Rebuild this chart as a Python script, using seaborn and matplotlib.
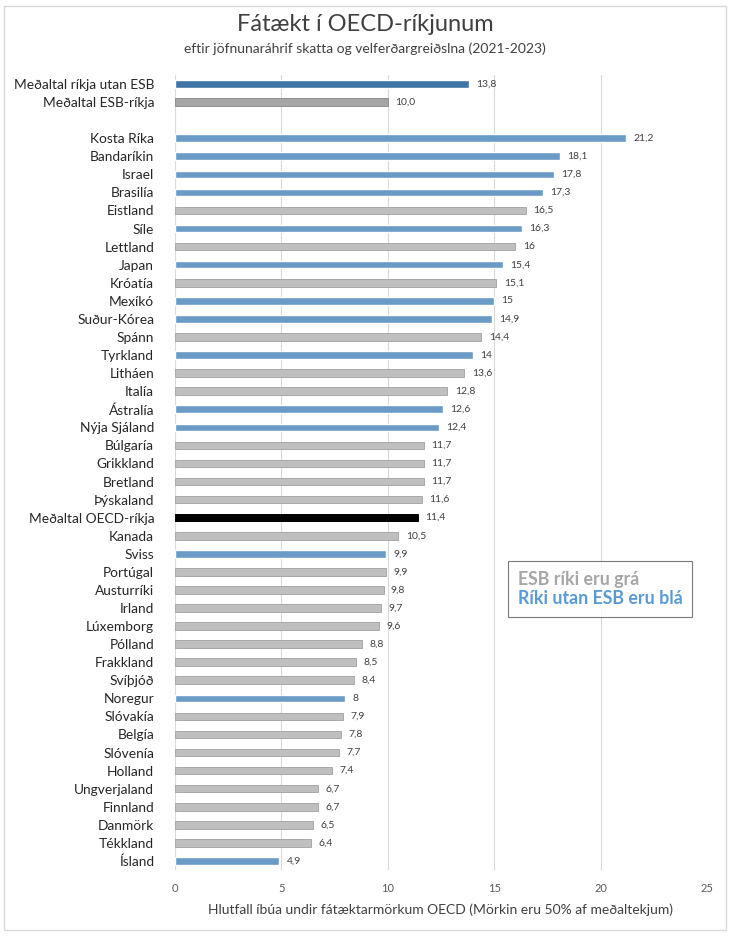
import numpy as np
import pandas as pd
import seaborn as sns
import matplotlib.pyplot as plt
from matplotlib.patches import Patch, Rectangle

lond = ['Meðaltal ríkja utan ESB', 'Meðaltal ESB-ríkja', '',
        'Kosta Ríka', 'Bandaríkin', 'Israel', 'Brasilía', 'Eistland', 'Síle',
        'Lettland', 'Japan', 'Króatía', 'Mexíkó', 'Suður-Kórea', 'Spánn',
        'Tyrkland', 'Litháen', 'Italía', 'Ástralía', 'Nýja Sjáland', 'Búlgaría',
        'Grikkland', 'Bretland', 'Þýskaland', 'Meðaltal OECD-ríkja', 'Kanada',
        'Sviss', 'Portúgal', 'Austurríki', 'Irland', 'Lúxemborg', 'Pólland',
        'Frakkland', 'Svíþjóð', 'Noregur', 'Slóvakía', 'Belgía', 'Slóvenía',
        'Holland', 'Ungverjaland', 'Finnland', 'Danmörk', 'Tékkland', 'Ísland']
gildi = [13.8, 10.0, np.nan,
         21.2, 18.1, 17.8, 17.3, 16.5, 16.3, 16.0, 15.4, 15.1, 15.0, 14.9, 14.4,
         14.0, 13.6, 12.8, 12.6, 12.4, 11.7, 11.7, 11.7, 11.6, 11.4, 10.5,
         9.9, 9.9, 9.8, 9.7, 9.6, 8.8, 8.5, 8.4, 8.0, 7.9, 7.8, 7.7,
         7.4, 6.7, 6.7, 6.5, 6.4, 4.9]
merki = ['13,8', '10,0', '',
         '21,2', '18,1', '17,8', '17,3', '16,5', '16,3', '16', '15,4', '15,1',
         '15', '14,9', '14,4', '14', '13,6', '12,8', '12,6', '12,4', '11,7',
         '11,7', '11,7', '11,6', '11,4', '10,5', '9,9', '9,9', '9,8', '9,7',
         '9,6', '8,8', '8,5', '8,4', '8', '7,9', '7,8', '7,7', '7,4', '6,7',
         '6,7', '6,5', '6,4', '4,9']
# u = utan ESB, e = ESB, o = OECD medaltal, mu/me = medaltol efst
hopur = ['mu', 'me', 'e',
         'u', 'u', 'u', 'u', 'e', 'u', 'e', 'u', 'e', 'u', 'u', 'e',
         'u', 'e', 'e', 'u', 'u', 'e', 'e', 'e', 'e', 'o', 'e',
         'u', 'e', 'e', 'e', 'e', 'e', 'e', 'e', 'u', 'e', 'e', 'e',
         'e', 'e', 'e', 'e', 'e', 'u']

litir = {'u': '#5b9bd5', 'e': '#bfbfbf', 'o': '#000000',
         'mu': '#2e75b6', 'me': '#a5a5a5'}
kantar = {'u': '#4a88c0', 'e': '#a9a9a9', 'o': '#000000',
          'mu': '#255f94', 'me': '#8f8f8f'}

df = pd.DataFrame({'land': lond, 'gildi': gildi, 'hopur': hopur})

sns.set_style('white')
plt.rcParams['font.family'] = ['Lato', 'DejaVu Sans']

fig = plt.figure(figsize=(7.3, 9.36), dpi=100)
ax = fig.add_axes([0.2397, 0.0705, 0.7288, 0.8494])

sns.barplot(data=df, x='gildi', y='land', hue='hopur', order=lond,
            palette=litir, dodge=False, width=0.42, legend=False,
            errorbar=None, ax=ax)

for p in ax.patches:
    fc = p.get_facecolor()
    for k, c in litir.items():
        if np.allclose(fc[:3], plt.matplotlib.colors.to_rgb(c)):
            p.set_edgecolor(kantar[k])
            p.set_linewidth(0.7)

for i, (v, m) in enumerate(zip(gildi, merki)):
    if m:
        ax.text(v + 0.35, i, m, va='center', ha='left', fontsize=7.5,
                color='#404040')

ax.set_xlim(0, 25)
ax.set_ylim(len(lond) - 0.5, -0.5)
ax.set_xticks([0, 5, 10, 15, 20, 25])
ax.grid(axis='x', color='#d9d9d9', linewidth=0.8)
ax.set_axisbelow(True)
for s in ax.spines.values():
    s.set_visible(False)
ax.tick_params(axis='y', length=0, labelsize=9.9, labelcolor='#262626', pad=15)
ax.tick_params(axis='x', length=0, labelsize=8, labelcolor='#595959', pad=9)
ax.set_ylabel('')
ax.set_xlabel('Hlutfall íbúa undir fátæktarmörkum OECD (Mörkin eru 50% af meðaltekjum)',
              fontsize=10, color='#404040', labelpad=7)

fig.text(0.5, 0.985, 'Fátækt í OECD-ríkjunum', ha='center', va='top',
         fontsize=17, color='#404040')
fig.text(0.5, 0.955, 'eftir jöfnunaráhrif skatta og velferðargreiðslna (2021-2023)',
         ha='center', va='top', fontsize=10, color='#404040')

handles = [Patch(alpha=0), Patch(alpha=0)]
leg = ax.legend(handles, ['ESB ríki eru grá', 'Ríki utan ESB eru blá'],
                loc='upper left', bbox_to_anchor=(0.626, 0.389), borderaxespad=0,
                handlelength=0, handletextpad=0, labelcolor=['#a6a6a6', '#5b9bd5'],
                prop={'weight': 'bold', 'size': 12.8}, frameon=True, fancybox=False,
                edgecolor='#595959', borderpad=0.55, labelspacing=0.15)
leg.get_frame().set_linewidth(0.8)

fig.patches.append(Rectangle((0.006, 0.006), 0.988, 0.988, transform=fig.transFigure,
                             fill=False, edgecolor='#d9d9d9', linewidth=1))

fig.savefig('out.png', dpi=100)
